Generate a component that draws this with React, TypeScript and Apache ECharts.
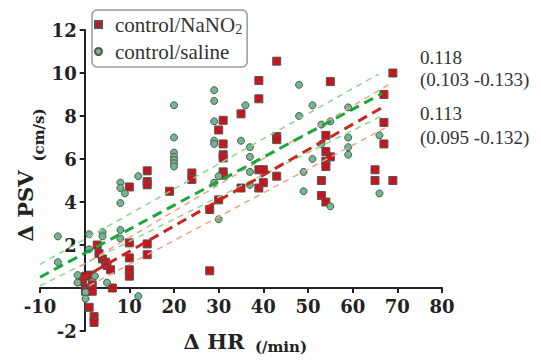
import React, { useEffect, useRef } from "react";
import * as echarts from "echarts";

// control/NaNO2 (red squares)
const nitriteHR = [-0.9, -0.5, 0.2, 1.3, 0.2, 0.2, 1.7, 1.7, 1, 2.1, 2.1,
  2.8, 3.2, 4, 4.7, 5, 5.8, 6.2,
  10, 10, 10, 10, 10,
  14, 14, 14, 14, 14,
  19, 24, 24, 28, 28, 30, 30,
  31, 31, 31, 31, 31, 31,
  35, 35, 39, 39, 39, 39, 40, 40,
  43, 43, 43, 43,
  53, 53, 54, 54, 54, 54, 54, 55, 55,
  65, 65, 67, 67, 67, 69, 69];
const nitritePSV = [0.5, 0.3, 0.55, 0.6, 0.0, -0.15, 0.15, -0.15, -0.9, -1.33, -1.6,
  2.0, 1.6, 1.35, 1.2, 1.05, 0.85, 0.0,
  2.1, 1.4, 0.85, 0.55, 4.7,
  5.45, 4.95, 4.8, 2.05, 1.55,
  4.5, 5.35, 5.05, 3.65, 0.8, 4.1, 7.35,
  7.8, 6.7, 6.2, 6.05, 5.4, 5.25,
  8.1, 4.65, 9.65, 8.8, 5.5, 4.65, 5.5, 4.9,
  10.55, 7.05, 6.9, 5.2,
  5.0, 4.3, 7.1, 6.35, 5.9, 5.65, 4.0, 9.6, 6.1,
  5.5, 5.0, 9.0, 7.7, 6.7, 10.0, 5.0];

// control/saline (green circles)
const salineHR = [-6, -6, -1.6, -1.6, 0.2, 0.2, 1, 1, 2.3, 5, 4, 4, 8, 8, 8, 8, 9, 8, 12, 12,
  20, 20, 20, 20, 20, 20, 20,
  29, 29, 29, 29, 29, 29, 30, 30,
  35, 36, 37, 37, 37, 37,
  48, 48, 49, 49, 51, 51, 53, 53, 55, 55,
  59, 59, 59, 59, 66, 66];
const salinePSV = [2.4, 1.2, 0.6, 0.25, -0.2, -0.5, 2.5, 1.8, 0.55, 0.25, 2.6, 2.4, 2.7, 2.3, 4.9, 4.65, 4.4, 3.95, 5.2, -0.38,
  8.5, 7.0, 6.3, 6.1, 5.95, 5.8, 5.65,
  9.2, 8.7, 7.75, 6.85, 6.7, 4.9, 5.2, 3.2,
  6.85, 8.5, 6.55, 6.1, 5.4, 4.8,
  9.45, 8.0, 5.4, 4.5, 8.5, 6.0, 7.6, 6.7, 7.75, 3.8,
  8.4, 7.0, 6.55, 6.2, 7.1, 4.4];

// regression lines and confidence bands (end points)
const salineFitHR = [-10, 66.6];
const salineFitPSV = [0.5, 9.05];
const salineUpperHR = [-10, 65.8];
const salineUpperPSV = [1.1, 9.95];
const salineLowerHR = [-10, 66.2];
const salineLowerPSV = [0.1, 7.97];
const nitriteFitHR = [-1, 67.5];
const nitriteFitPSV = [0.4, 8.5];
const nitriteUpperHR = [-1, 68];
const nitriteUpperPSV = [1.0, 9.45];
const nitriteLowerHR = [1, 67.3];
const nitriteLowerPSV = [0.1, 7.45];

const xTicks = { min: -10, max: 80, interval: 10 };
const yTicks = { min: -2, max: 12, interval: 2 };

const salineSlope = ["0.118", "(0.103 -0.133)"];
const nitriteSlope = ["0.113", "(0.095 -0.132)"];

const zip = (xs: number[], ys: number[]) => xs.map((x, i) => [x, ys[i]]);

const RED = "#c4161c";
const GREEN = "#6db88c";
const SERIF = "'Liberation Serif', 'DejaVu Serif', serif";
const BOLD_SERIF = "'DejaVu Serif', serif";

const GRID = { left: 40, right: 99, top: 30, bottom: 30 };
const W = 541;
const H = 361;

export default function App() {
  const ref = useRef<HTMLDivElement>(null);
  useEffect(() => {
    if (!ref.current) return;
    const chart = echarts.init(ref.current, undefined, { renderer: "svg" });
    // place the axes through the origin by offsetting them from the grid edges
    const gw = W - GRID.left - GRID.right;
    const gh = H - GRID.top - GRID.bottom;
    const xOffset = -((0 - yTicks.min) / (yTicks.max - yTicks.min)) * gh;
    const yOffset = -((0 - xTicks.min) / (xTicks.max - xTicks.min)) * gw;
    const fitLine = (name: string, xs: number[], ys: number[], color: string, width: number, dash: number[]) => ({
      name,
      type: "line",
      data: zip(xs, ys),
      showSymbol: false,
      symbol: "none",
      silent: true,
      z: 5,
      lineStyle: { color, width, type: dash },
    });
    chart.setOption({
      animation: false,
      grid: { ...GRID, containLabel: false },
      legend: {
        orient: "vertical",
        left: 92,
        top: 10,
        data: ["control/NaNO2", "control/saline"],
        itemWidth: 7,
        itemHeight: 7,
        itemGap: 5,
        padding: [4, 5, 5, 2],
        borderColor: "#999",
        borderWidth: 1.5,
        borderRadius: 5,
        formatter: (n: string) => (n === "control/NaNO2" ? "control/NaNO{s|2}" : n),
        textStyle: {
          fontFamily: SERIF,
          fontSize: 21,
          color: "#333",
          padding: [0, 0, 0, 8],
          rich: {
            s: { fontFamily: SERIF, fontSize: 14, color: "#333", padding: [9, 0, 0, 0] },
          },
        },
      },
      xAxis: {
        type: "value",
        ...xTicks,
        offset: xOffset,
        splitLine: { show: false },
        axisLine: { onZero: false, lineStyle: { color: "#222", width: 2 } },
        axisTick: { show: true, length: 5, lineStyle: { color: "#222", width: 2 } },
        axisLabel: {
          margin: 9,
          fontFamily: BOLD_SERIF,
          fontWeight: "bold",
          fontSize: 18,
          color: "#222",
          formatter: (v: number) => (v === 0 ? "" : String(v)),
        },
      },
      yAxis: {
        type: "value",
        ...yTicks,
        offset: yOffset,
        splitLine: { show: false },
        axisLine: { onZero: false, lineStyle: { color: "#222", width: 2 } },
        axisTick: { show: true, length: 5, lineStyle: { color: "#222", width: 2 } },
        axisLabel: {
          margin: 8,
          fontFamily: BOLD_SERIF,
          fontWeight: "bold",
          fontSize: 18,
          color: "#222",
          formatter: (v: number) => (v === 0 ? "" : String(v)),
        },
      },
      graphic: [
        { type: "text", x: 214, y: 341, style: { text: "Δ HR", fontFamily: BOLD_SERIF, fontWeight: "bold", fontSize: 21, fill: "#222", align: "center", verticalAlign: "middle" } },
        { type: "text", x: 281, y: 347, style: { text: "(/min)", fontFamily: BOLD_SERIF, fontWeight: "bold", fontSize: 15, fill: "#222", align: "center", verticalAlign: "middle" } },
        { type: "text", x: 25, y: 206, rotation: Math.PI / 2, style: { text: "Δ PSV", fontFamily: BOLD_SERIF, fontWeight: "bold", fontSize: 21, fill: "#222", align: "center", verticalAlign: "middle" } },
        { type: "text", x: 39, y: 135, rotation: Math.PI / 2, style: { text: "(cm/s)", fontFamily: BOLD_SERIF, fontWeight: "bold", fontSize: 15, fill: "#222", align: "center", verticalAlign: "middle" } },
        { type: "text", x: 420, y: 57, style: { text: salineSlope[0], fontFamily: SERIF, fontSize: 19, fill: "#333", verticalAlign: "middle" } },
        { type: "text", x: 420, y: 79, style: { text: salineSlope[1], fontFamily: SERIF, fontSize: 19, fill: "#333", verticalAlign: "middle" } },
        { type: "text", x: 420, y: 113, style: { text: nitriteSlope[0], fontFamily: SERIF, fontSize: 19, fill: "#333", verticalAlign: "middle" } },
        { type: "text", x: 420, y: 137, style: { text: nitriteSlope[1], fontFamily: SERIF, fontSize: 19, fill: "#333", verticalAlign: "middle" } },
      ],
      series: [
        {
          name: "control/NaNO2",
          type: "scatter",
          symbol: "rect",
          symbolSize: 8,
          data: zip(nitriteHR, nitritePSV),
          itemStyle: { color: RED, borderColor: "#555", borderWidth: 1, opacity: 1 },
          z: 3,
        },
        {
          name: "control/saline",
          type: "scatter",
          symbol: "circle",
          symbolSize: 7,
          data: zip(salineHR, salinePSV),
          itemStyle: { color: GREEN, borderColor: "#555", borderWidth: 1, opacity: 1 },
          z: 3,
        },
        fitLine("saline upper", salineUpperHR, salineUpperPSV, "#8ed48e", 1.5, [6, 5]),
        fitLine("saline lower", salineLowerHR, salineLowerPSV, "#8ed48e", 1.5, [6, 5]),
        fitLine("nitrite upper", nitriteUpperHR, nitriteUpperPSV, "#f4a088", 1.5, [6, 5]),
        fitLine("nitrite lower", nitriteLowerHR, nitriteLowerPSV, "#f4a088", 1.5, [6, 5]),
        fitLine("saline fit", salineFitHR, salineFitPSV, "#18a83a", 3, [10, 6]),
        fitLine("nitrite fit", nitriteFitHR, nitriteFitPSV, "#c8261e", 3, [10, 6]),
      ],
    });
    return () => chart.dispose();
  }, []);
  return <div ref={ref} style={{ position: "absolute", left: 0, top: 0, width: W, height: H }} />;
}
